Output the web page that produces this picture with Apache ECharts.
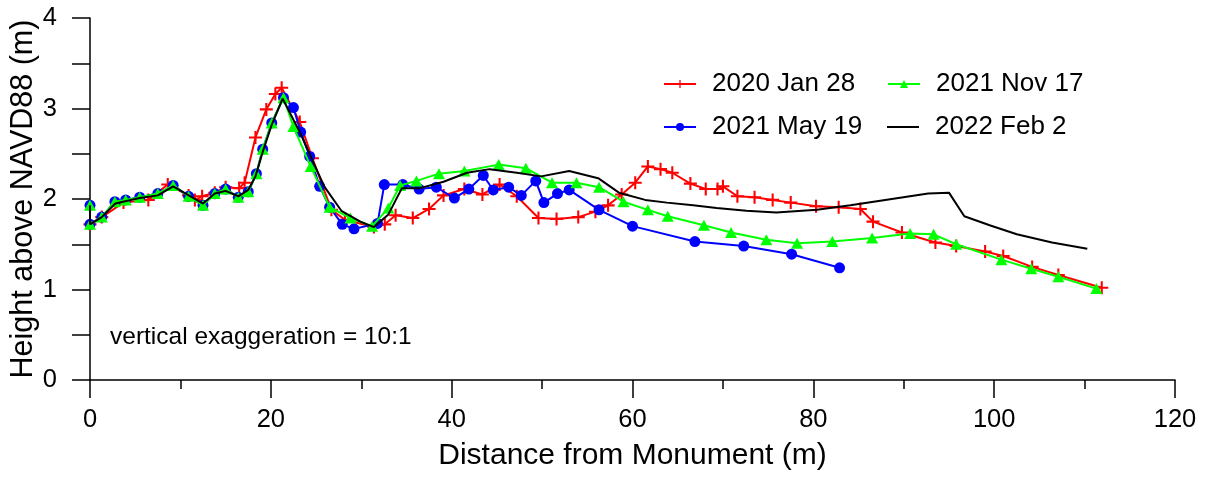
<!DOCTYPE html>
<html>
<head>
<meta charset="utf-8">
<script src="https://cdn.jsdelivr.net/npm/echarts@6/dist/echarts.min.js"></script>
<style>
html,body{margin:0;padding:0;background:#fff;}
#chart{width:1209px;height:487px;}
</style>
</head>
<body>
<div id="chart"></div>
<script>
// ---- data ----
var seriesNames = ['2020 Jan 28', '2021 May 19', '2021 Nov 17', '2022 Feb 2'];

var jan2020 = [[0,1.72],[1.3,1.80],[3.7,1.96],[6.45,1.99],[8.6,2.16],[10.9,2.04],[11.6,1.99],[12.4,2.03],[13.8,2.07],[15.0,2.13],[16.5,2.12],[17.1,2.18],[18.3,2.68],[19.5,2.99],[20.5,3.16],[21.2,3.23],[23.2,2.85],[24.6,2.45],[26.7,1.88],[28.2,1.77],[31.4,1.69],[32.6,1.72],[33.8,1.82],[35.7,1.79],[37.5,1.89],[39.1,2.04],[41.4,2.11],[43.4,2.05],[45.3,2.16],[47.2,2.03],[49.6,1.79],[51.6,1.78],[54.0,1.80],[55.9,1.86],[57.3,1.93],[58.8,2.05],[60.3,2.18],[61.7,2.36],[63.1,2.33],[64.4,2.29],[66.4,2.17],[68.1,2.11],[69.4,2.11],[70.0,2.14],[71.6,2.03],[73.5,2.02],[75.5,1.99],[77.5,1.96],[80.3,1.92],[82.8,1.91],[85.2,1.89],[86.6,1.75],[89.8,1.63],[93.5,1.52],[95.8,1.48],[99.0,1.42],[101.0,1.37],[104.2,1.25],[107.1,1.16],[111.9,1.02]];

var may2021 = [[0,1.93],[0,1.72],[1.3,1.80],[2.75,1.97],[3.95,1.99],[5.5,2.02],[7.5,2.06],[9.2,2.15],[10.9,2.03],[12.5,1.93],[13.8,2.06],[15.0,2.11],[16.4,2.02],[17.5,2.08],[18.4,2.28],[19.1,2.55],[20.1,2.84],[21.4,3.12],[22.5,3.01],[23.3,2.74],[24.3,2.47],[25.4,2.14],[26.5,1.91],[27.9,1.72],[29.2,1.67],[31.8,1.73],[32.55,2.16],[34.6,2.16],[36.4,2.11],[38.3,2.13],[40.3,2.01],[41.9,2.11],[43.5,2.26],[44.6,2.10],[46.3,2.13],[47.7,2.04],[49.3,2.20],[50.2,1.96],[51.7,2.06],[53.0,2.10],[56.3,1.88],[60.0,1.70],[66.9,1.53],[72.3,1.48],[77.6,1.39],[82.9,1.24]];

var nov2021 = [[0,1.93],[0,1.72],[1.3,1.80],[2.75,1.97],[3.95,1.99],[5.5,2.02],[7.5,2.06],[9.2,2.15],[10.9,2.03],[12.5,1.93],[13.8,2.06],[15.0,2.11],[16.4,2.02],[17.5,2.08],[18.4,2.28],[19.1,2.55],[20.1,2.84],[21.4,3.12],[22.5,2.80],[24.4,2.36],[26.5,1.91],[28.8,1.79],[31.2,1.70],[33.0,1.90],[34.3,2.15],[36.1,2.20],[38.6,2.28],[41.4,2.31],[45.2,2.38],[48.2,2.34],[51.1,2.18],[53.8,2.18],[56.3,2.13],[59.0,1.97],[61.7,1.88],[63.9,1.81],[67.9,1.71],[70.9,1.63],[74.8,1.55],[78.2,1.51],[82.1,1.53],[86.5,1.57],[90.7,1.62],[93.3,1.61],[95.8,1.50],[100.8,1.33],[104.1,1.23],[107.1,1.14],[111.3,1.01]];

var feb2022 = [[0,1.93],[0,1.72],[1.3,1.80],[2.8,1.95],[5.5,2.01],[7.5,2.04],[9.2,2.14],[12.5,1.95],[13.8,2.06],[15.0,2.09],[16.4,2.03],[17.5,2.10],[18.3,2.25],[19.1,2.52],[20.1,2.82],[21.3,3.11],[23.3,2.72],[24.5,2.45],[25.9,2.14],[27.8,1.87],[29.9,1.75],[31.4,1.69],[33.0,1.83],[34.5,2.12],[36.5,2.12],[39.1,2.19],[41.7,2.29],[44.2,2.33],[47.2,2.29],[49.9,2.25],[53.0,2.31],[56.2,2.23],[58.5,2.07],[61.4,1.99],[63.8,1.96],[66.7,1.93],[69.3,1.90],[72.6,1.87],[75.9,1.85],[80.4,1.88],[84.1,1.93],[87.4,1.98],[92.7,2.06],[95.0,2.07],[96.7,1.81],[99.5,1.71],[102.5,1.61],[106.4,1.52],[110.3,1.45]];

var xTicks = [0, 20, 40, 60, 80, 100, 120];
var yTicks = [0, 1, 2, 3, 4];
var xTitle = 'Distance from Monument (m)';
var yTitle = 'Height above NAVD88 (m)';
var note = 'vertical exaggeration = 10:1';

// ---- chart ----
var FONT = '"Liberation Sans", Arial, Helvetica, sans-serif';
var plusPath = 'path://M-5,-0.8 L5,-0.8 L5,0.8 L-5,0.8 Z M-0.8,-5 L0.8,-5 L0.8,5 L-0.8,5 Z';

function legendAt(name, left, top, plainLine) {
  var item = plainLine ? { name: name, icon: 'rect' } : name;
  return {
    data: [item], left: left, top: top, padding: 0, itemWidth: 32,
    itemHeight: plainLine ? 2 : 10,
    textStyle: { fontSize: 26, fontFamily: FONT, color: '#000', padding: [0, 0, 0, 11], lineHeight: 30 },
    selectedMode: false
  };
}

var chart = echarts.init(document.getElementById('chart'), null, { renderer: 'canvas' });
var option = {
  animation: false,
  backgroundColor: '#fff',
  textStyle: { fontFamily: FONT },
  grid: { left: 90, right: 34, top: 18, bottom: 107, containLabel: false, outerBoundsMode: 'none' },
  xAxis: {
    type: 'value', min: xTicks[0], max: xTicks[xTicks.length - 1], interval: 20,
    name: xTitle, nameLocation: 'middle', nameGap: 61, nameMoveOverlap: false,
    nameTextStyle: { fontSize: 30, color: '#000', fontFamily: FONT },
    axisLine: { show: true, onZero: false, lineStyle: { color: '#000', width: 1.5 } },
    axisTick: { show: true, inside: false, length: 18, lineStyle: { color: '#000', width: 1.5 } },
    minorTick: { show: true, splitNumber: 2, length: 9, lineStyle: { color: '#000', width: 1.5 } },
    axisLabel: { fontSize: 25.5, color: '#000', margin: 27, fontFamily: FONT },
    splitLine: { show: false }
  },
  yAxis: {
    type: 'value', min: yTicks[0], max: yTicks[yTicks.length - 1], interval: 1,
    name: yTitle, nameLocation: 'middle', nameGap: 51, nameRotate: 90, nameMoveOverlap: false,
    nameTextStyle: { fontSize: 30.5, color: '#000', fontFamily: FONT },
    axisLine: { show: true, onZero: false, lineStyle: { color: '#000', width: 1.5 } },
    axisTick: { show: true, inside: false, length: 18, lineStyle: { color: '#000', width: 1.5 } },
    minorTick: { show: true, splitNumber: 2, length: 18, lineStyle: { color: '#000', width: 1.5 } },
    axisLabel: { fontSize: 25.5, color: '#000', margin: 33, fontFamily: FONT },
    splitLine: { show: false }
  },
  legend: [
    legendAt(seriesNames[0], 663, 69, false),
    legendAt(seriesNames[2], 887, 69, false),
    legendAt(seriesNames[1], 663, 112, false),
    legendAt(seriesNames[3], 887, 112, true)
  ],
  graphic: [{
    type: 'text', left: 110, top: 325,
    style: { text: note, fontSize: 24.5, fill: '#000', fontFamily: FONT }
  }],
  series: [
    { name: seriesNames[0], type: 'line', data: jan2020, color: '#ff0000', z: 2,
      symbol: plusPath, symbolSize: 13, showAllSymbol: true,
      lineStyle: { width: 2, color: '#ff0000' }, itemStyle: { color: '#ff0000', borderWidth: 0 } },
    { name: seriesNames[1], type: 'line', data: may2021, color: '#0000ff', z: 3,
      symbol: 'circle', symbolSize: 11, showAllSymbol: true,
      lineStyle: { width: 2, color: '#0000ff' }, itemStyle: { color: '#0000ff', borderWidth: 0 } },
    { name: seriesNames[2], type: 'line', data: nov2021, color: '#00ff00', z: 4,
      symbol: 'triangle', symbolSize: [12, 11], showAllSymbol: true,
      lineStyle: { width: 2, color: '#00ff00' }, itemStyle: { color: '#00ff00', borderWidth: 0 } },
    { name: seriesNames[3], type: 'line', data: feb2022, color: '#000000', z: 5,
      symbol: 'none', showSymbol: false,
      lineStyle: { width: 2, color: '#000000' }, itemStyle: { color: '#000000' } }
  ]
};
chart.setOption(option);
</script>
</body>
</html>
